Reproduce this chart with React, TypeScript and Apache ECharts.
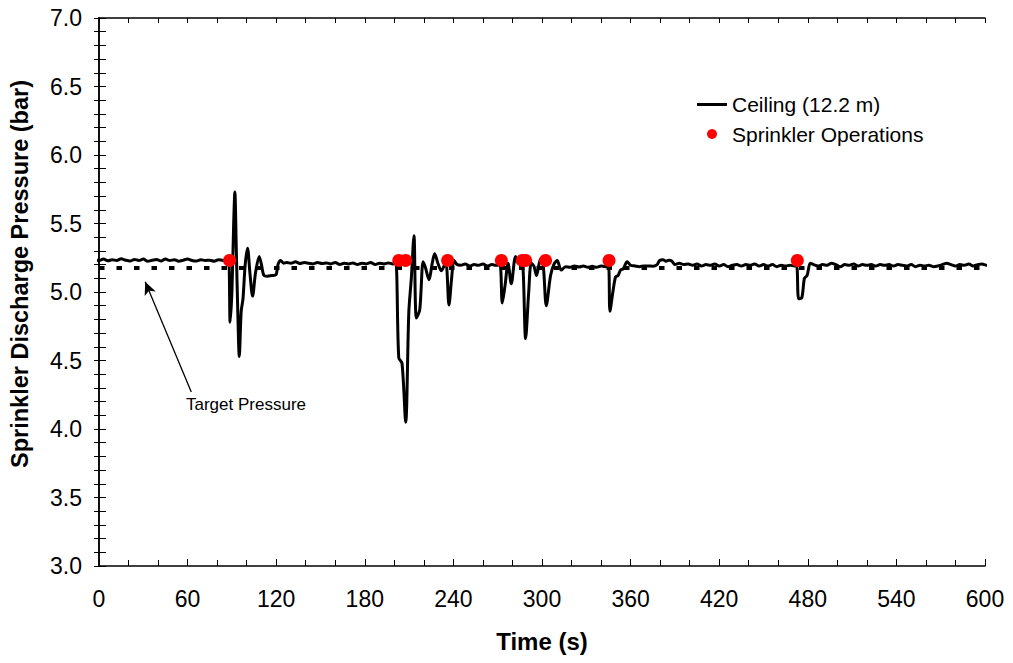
import React, { useEffect, useRef } from "react";
import * as echarts from "echarts";

const xTicks = [0, 60, 120, 180, 240, 300, 360, 420, 480, 540, 600];
const yTicks = [3.0, 3.5, 4.0, 4.5, 5.0, 5.5, 6.0, 6.5, 7.0];

// Ceiling (12.2 m) pressure readings: [time s, pressure bar]
const ceilingReadings: [number, number][] = [
  [-3, 5.235], [0, 5.23], [3, 5.24], [6, 5.228], [9, 5.236], [12, 5.23], [15, 5.242], [18, 5.232], [21, 5.226], [24, 5.238],
  [27, 5.23], [30, 5.24], [33, 5.225], [36, 5.232], [39, 5.238], [42, 5.226], [45, 5.24], [48, 5.23], [51, 5.236], [54, 5.225],
  [57, 5.232], [60, 5.24], [63, 5.23], [66, 5.226], [69, 5.236], [72, 5.23], [75, 5.232], [78, 5.225], [81, 5.236], [84, 5.23], [87, 5.232],
  [88, 5.23], [88.8, 4.78], [90, 5.0], [91.2, 5.5], [92, 5.73], [93, 5.3], [94, 4.85], [95, 4.53], [96.3, 4.86], [97.5, 4.95],
  [99, 5.2], [100.6, 5.32], [102.2, 5.14], [104, 4.97], [106, 5.14], [108.5, 5.26], [110, 5.2], [111.7, 5.12], [114, 5.115],
  [117, 5.12], [119.8, 5.125], [121.2, 5.2], [123, 5.23], [125, 5.21],
  [127, 5.215], [130, 5.21], [133, 5.22], [136, 5.208], [139, 5.215], [142, 5.21], [145, 5.205], [148, 5.215], [151, 5.208],
  [154, 5.212], [157, 5.205], [160, 5.215], [163, 5.2], [166, 5.21], [169, 5.205], [172, 5.212], [175, 5.2], [178, 5.21],
  [181, 5.205], [184, 5.215], [187, 5.2], [190, 5.21], [193, 5.205], [196, 5.212], [199, 5.205],
  [201, 5.21], [203, 4.52], [205.2, 4.48], [207.7, 4.05], [209.8, 4.85], [211.5, 5.1], [213.3, 5.41], [214.9, 4.81], [217.2, 4.87],
  [219.5, 5.22], [221, 5.18], [223.5, 5.09], [225.5, 5.2], [227.3, 5.28], [229.5, 5.21], [231.9, 5.155], [234.8, 5.22],
  [237, 4.905], [238.8, 5.1], [240.4, 5.23], [242.5, 5.2],
  [245, 5.195], [248, 5.205], [251, 5.19], [254, 5.2], [257, 5.195], [260, 5.205], [263, 5.19], [266, 5.2], [269, 5.195], [271.5, 5.2],
  [273.1, 4.92], [275, 5.05], [277, 5.21], [279.2, 5.06], [282.1, 5.26], [284, 5.21], [286.5, 5.22], [288.9, 4.66], [291, 5.0],
  [292.7, 5.21], [294.5, 5.19], [296.3, 5.12], [299, 5.24], [300.8, 5.2], [302.9, 4.9], [305.8, 5.12], [308, 5.2], [310.3, 5.23],
  [313, 5.16], [316, 5.185],
  [319, 5.18], [322, 5.19], [325, 5.183], [328, 5.19], [331, 5.18], [334, 5.188], [337, 5.18], [340, 5.19], [343, 5.185], [345, 5.19],
  [346, 4.86], [348, 5.0], [349.8, 5.11], [351.5, 5.12], [353.2, 5.16], [355, 5.17], [357.7, 5.22], [360, 5.195],
  [363, 5.19], [366, 5.185], [369, 5.19], [372, 5.19], [375, 5.188], [378, 5.2], [379.5, 5.228], [382, 5.235], [384, 5.225],
  [386, 5.232], [388, 5.225], [390, 5.2], [393, 5.21], [396, 5.2], [399, 5.205], [402, 5.195], [405, 5.205], [408, 5.19],
  [411, 5.2], [414, 5.195], [417, 5.205], [420, 5.19], [423, 5.2], [426, 5.185], [429, 5.195], [432, 5.2], [435, 5.19],
  [438, 5.2], [441, 5.195], [444, 5.205], [447, 5.19], [450, 5.2], [453, 5.19], [456, 5.2], [459, 5.185], [462, 5.195],
  [465, 5.19], [468, 5.195], [471, 5.19],
  [472.5, 5.19], [473.8, 4.95], [476, 4.96], [477.7, 5.1], [479.5, 5.12], [481.7, 5.21], [484, 5.2],
  [487, 5.19], [490, 5.2], [493, 5.195], [496, 5.21], [499, 5.2], [502, 5.185], [505, 5.2], [508, 5.195], [511, 5.205],
  [514, 5.19], [517, 5.2], [520, 5.195], [523, 5.2], [526, 5.19], [529, 5.2], [532, 5.195], [535, 5.2], [538, 5.19],
  [541, 5.2], [544, 5.195], [547, 5.19], [550, 5.2], [553, 5.185], [556, 5.195], [559, 5.19], [562, 5.195], [565, 5.185],
  [568, 5.19], [571, 5.2], [574, 5.21], [577, 5.2], [580, 5.19], [583, 5.2], [586, 5.195], [589, 5.205], [592, 5.19],
  [595, 5.2], [598, 5.205], [601, 5.195], [603, 5.2],
];

// Sprinkler operation times (s) and the pressure level they are plotted at (bar)
const sprinklerTimes = [88.4, 203, 207.7, 236.1, 272.5, 286.7, 288.9, 302.4, 345.4, 472.9];
const sprinklerPressure = [5.23, 5.23, 5.23, 5.23, 5.23, 5.23, 5.23, 5.23, 5.23, 5.23];

const targetPressure = 5.175;
const targetSpan = [0, 600];
const arrowTail: [number, number] = [62.5, 4.27];
const arrowHead: [number, number] = [31.3, 5.075];

const FONT = "'Liberation Sans', Arial, Helvetica, sans-serif";
const LINE_ICON = "path://M0,0h30v0.02h-30zM0,3.5h30v3h-30zM0,9.98h30v0.02h-30z";

export default function App() {
  const ref = useRef<HTMLDivElement>(null);

  useEffect(() => {
    if (!ref.current) return;
    const chart = echarts.init(ref.current, null, { renderer: "svg" });
    const axisLine = { show: true, lineStyle: { color: "#000", width: 1.5 } };
    const option: any = {
      animation: false,
      backgroundColor: "#fff",
      textStyle: { fontFamily: FONT },
      grid: { left: 98, right: 28, top: 18, bottom: 97, containLabel: false },
      legend: {
        orient: "vertical",
        left: 697,
        top: 94,
        padding: 0,
        itemWidth: 30,
        itemHeight: 10,
        itemGap: 8.5,
        textStyle: { fontFamily: FONT, fontSize: 21, color: "#000" },
        data: [
          { name: "Ceiling (12.2 m)", icon: LINE_ICON, itemStyle: { color: "#000" } },
          { name: "Sprinkler Operations", icon: "circle" },
        ],
      },
      xAxis: [
        {
          type: "value",
          min: 0,
          max: 600,
          interval: 60,
          position: "bottom",
          axisLine,
          axisTick: { show: true, inside: true, length: 7, lineStyle: { color: "#000", width: 1 } },
          minorTick: { show: true, splitNumber: 3, length: 6, lineStyle: { color: "#000", width: 1 } },
          splitLine: { show: false },
          axisLabel: {
            fontFamily: FONT,
            fontSize: 23,
            color: "#000",
            margin: 21,
            formatter: (v: number) => (xTicks.includes(v) ? String(v) : ""),
          },
          name: "Time (s)",
          nameLocation: "middle",
          nameGap: 63,
          nameTextStyle: { fontFamily: FONT, fontSize: 24, fontWeight: "bold", color: "#000" },
        },
        {
          type: "value",
          min: 0,
          max: 600,
          interval: 20,
          position: "top",
          axisLine,
          axisTick: { show: true, inside: true, length: 5, lineStyle: { color: "#000", width: 1 } },
          axisLabel: { show: false },
          splitLine: { show: false },
        },
      ],
      yAxis: [
        {
          type: "value",
          min: 3,
          max: 7,
          interval: 0.5,
          position: "left",
          axisLine,
          axisTick: { show: true, inside: true, length: 7, lineStyle: { color: "#000", width: 1 } },
          minorTick: { show: true, splitNumber: 5, length: 7, lineStyle: { color: "#000", width: 1 } },
          splitLine: { show: false },
          axisLabel: {
            fontFamily: FONT,
            fontSize: 23,
            color: "#000",
            margin: 17,
            formatter: (v: number) => (yTicks.some((t) => Math.abs(t - v) < 1e-9) ? v.toFixed(1) : ""),
          },
          name: "Sprinkler Discharge Pressure (bar)",
          nameLocation: "middle",
          nameGap: 67,
          nameTextStyle: {
            fontFamily: FONT,
            fontSize: 23.5,
            fontWeight: "bold",
            color: "#000",
            padding: [0, 0, 0, 36],
          },
        },
        {
          type: "value",
          min: 3,
          max: 7,
          interval: 0.1,
          position: "right",
          axisLine,
          axisTick: { show: true, inside: true, length: 5, lineStyle: { color: "#000", width: 1 } },
          axisLabel: { show: false },
          splitLine: { show: false },
        },
      ],
      series: [
        {
          name: "Target Pressure",
          type: "line",
          xAxisIndex: 0,
          yAxisIndex: 0,
          data: targetSpan.map((t) => [t, targetPressure]),
          symbol: "none",
          lineStyle: { color: "#000", width: 4, type: [5.5, 12] },
          z: 1,
          markLine: {
            silent: true,
            symbol: ["none", "arrow"],
            symbolSize: [9, 13],
            label: { show: false },
            lineStyle: { color: "#000", width: 1.3, type: "solid" },
            data: [[{ coord: arrowTail }, { coord: arrowHead }]],
          },
        },
        {
          name: "Ceiling (12.2 m)",
          type: "line",
          xAxisIndex: 0,
          yAxisIndex: 0,
          data: ceilingReadings,
          symbol: "none",
          smooth: 0.3,
          clip: false,
          itemStyle: { color: "#000" },
          lineStyle: { color: "#000", width: 3 },
          z: 2,
        },
        {
          name: "Sprinkler Operations",
          type: "scatter",
          xAxisIndex: 0,
          yAxisIndex: 0,
          data: sprinklerTimes.map((t, i) => [t, sprinklerPressure[i]]),
          symbol: "circle",
          symbolSize: 13,
          itemStyle: { color: "#ff0000", opacity: 1 },
          z: 3,
        },
      ],
      graphic: [
        {
          type: "text",
          left: 186,
          top: 396,
          style: { text: "Target Pressure", fontFamily: FONT, fontSize: 17, fill: "#000" },
        },
      ],
    };
    chart.setOption(option);
    return () => chart.dispose();
  }, []);

  return (
    <div
      ref={ref}
      style={{ position: "fixed", left: 0, top: 0, width: 1013, height: 663, background: "#fff" }}
    />
  );
}
